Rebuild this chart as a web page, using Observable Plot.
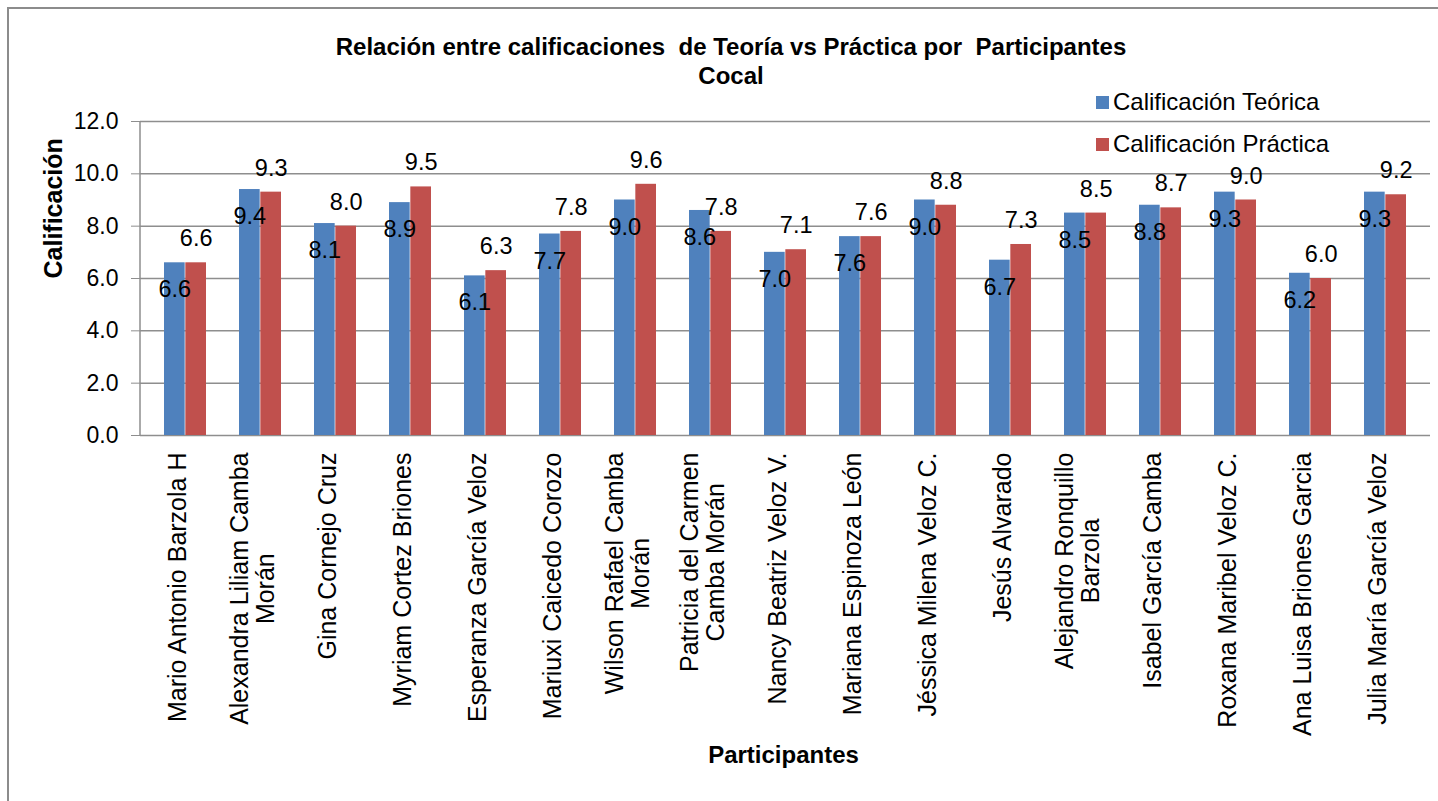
<!DOCTYPE html>
<html>
<head>
<meta charset="utf-8">
<script src="https://cdn.jsdelivr.net/npm/d3@7"></script>
<script src="https://cdn.jsdelivr.net/npm/@observablehq/plot@0.6"></script>
<style>
  html, body { margin: 0; padding: 0; background: #fff; }
  #wrap { position: relative; width: 1438px; height: 801px; overflow: hidden; font-family: "Liberation Sans", Arial, sans-serif; color: #000; }
  #border { position: absolute; left: 7px; top: 7px; width: 1460px; height: 820px; border: 2.5px solid #8c8c8c; box-sizing: border-box; }
  #title { position: absolute; left: 0; top: 32px; width: 1462px; text-align: center; font-weight: bold; font-size: 24px; line-height: 29px; white-space: pre; }
  #chart { position: absolute; left: 0; top: 0; }
  #legend { position: absolute; left: 1096px; top: 88px; font-size: 24px; }
  .item { display: flex; align-items: center; height: 28px; margin-bottom: 14px; white-space: nowrap; }
  .sw { width: 13px; height: 13px; margin-right: 4px; }
</style>
</head>
<body>
<div id="wrap">
  <div id="border"></div>
  <div id="title"></div>
  <div id="chart"></div>
  <div id="legend"></div>
</div>
<script>
const titleLines = ["Relación entre calificaciones  de Teoría vs Práctica por  Participantes", "Cocal"];
const participants = [
  "Mario Antonio Barzola H",
  "Alexandra Liliam Camba\nMorán",
  "Gina Cornejo Cruz",
  "Myriam Cortez Briones",
  "Esperanza García Veloz",
  "Mariuxi Caicedo Corozo",
  "Wilson Rafael Camba\nMorán",
  "Patricia del Carmen\nCamba Morán",
  "Nancy Beatriz Veloz V.",
  "Mariana Espinoza León",
  "Jéssica Milena Veloz C.",
  "Jesús Alvarado",
  "Alejandro Ronquillo\nBarzola",
  "Isabel García Camba",
  "Roxana Maribel Veloz C.",
  "Ana Luisa Briones Garcia",
  "Julia María García Veloz"
];
const teorica  = [6.6, 9.4, 8.1, 8.9, 6.1, 7.7, 9.0, 8.6, 7.0, 7.6, 9.0, 6.7, 8.5, 8.8, 9.3, 6.2, 9.3];
const practica = [6.6, 9.3, 8.0, 9.5, 6.3, 7.8, 9.6, 7.8, 7.1, 7.6, 8.8, 7.3, 8.5, 8.7, 9.0, 6.0, 9.2];
const seriesNames = ["Calificación Teórica", "Calificación Práctica"];
const yTicks = [0, 2, 4, 6, 8, 10, 12];
const yLabel = "Calificación";
const xLabel = "Participantes";

const colors = ["#4F81BD", "#C0504D"];
const gridColor = "#8e8e8e";
const fontFamily = "'Liberation Sans', Arial, sans-serif";

const rows = participants.map((name, i) => ({name, teo: teorica[i], pra: practica[i]}));
const fmt = d3.format(".1f");

const W = 1438, H = 801;
const mL = 140, mR = 8, mT = 121, mB = 366;
const padIn = 0.438, padOut = 0.219;
const band = d3.scaleBand(participants, [mL, W - mR]).paddingInner(padIn).paddingOuter(padOut);
const bw = band.bandwidth();

// text measuring for centered wrapped labels
const ctx = document.createElement("canvas").getContext("2d");
const xFont = 25;
ctx.font = `${xFont}px ${fontFamily}`;
const measure = s => ctx.measureText(s).width;

const singles = rows.filter(d => !d.name.includes("\n"));
const wrapped = rows.filter(d => d.name.includes("\n"));
const lineGap = 13;
const labelTop = 17;

const xLabelMarks = [
  Plot.text(singles, {x: "name", frameAnchor: "bottom", text: d => d.name, rotate: -90, textAnchor: "end", dy: labelTop, fontSize: xFont}),
  ...wrapped.flatMap(d => {
    const [l1, l2] = d.name.split("\n");
    const w1 = measure(l1);
    return [
      Plot.text([d], {x: "name", frameAnchor: "bottom", text: () => l1, rotate: -90, textAnchor: "end", dy: labelTop, dx: -lineGap, fontSize: xFont}),
      Plot.text([d], {x: "name", frameAnchor: "bottom", text: () => l2, rotate: -90, textAnchor: "middle", dy: labelTop + w1 / 2, dx: lineGap, fontSize: xFont})
    ];
  })
];

const yAxisLine = (index, scales, values, dimensions) => {
  const l = document.createElementNS("http://www.w3.org/2000/svg", "line");
  const y = scales.y;
  l.setAttribute("x1", dimensions.marginLeft);
  l.setAttribute("x2", dimensions.marginLeft);
  l.setAttribute("y1", y(yTicks[yTicks.length - 1]));
  l.setAttribute("y2", y(yTicks[0]));
  l.setAttribute("stroke", gridColor);
  l.setAttribute("stroke-width", 1.5);
  return l;
};

const chart = Plot.plot({
  width: W,
  height: H,
  marginLeft: mL,
  marginRight: mR,
  marginTop: mT,
  marginBottom: mB,
  style: {fontFamily, color: "#000", background: "transparent", overflow: "visible"},
  x: {type: "band", domain: participants, paddingInner: padIn, paddingOuter: padOut, axis: null},
  y: {domain: [yTicks[0], yTicks[yTicks.length - 1]], axis: null},
  marks: [
    Plot.ruleY(yTicks, {stroke: gridColor, strokeWidth: 1.5}),
    Plot.axisY({ticks: yTicks, tickSize: 9, tickPadding: 13, tickFormat: fmt, fontSize: 23, stroke: gridColor, fill: "#000", label: null}),
    yAxisLine,
    Plot.barY(rows, {x: "name", y: "teo", fill: colors[0], insetRight: bw / 2}),
    Plot.barY(rows, {x: "name", y: "pra", fill: colors[1], insetLeft: bw / 2}),
    Plot.text(rows, {x: "name", y: "teo", text: d => fmt(d.teo), dx: -bw / 4, dy: 27, fontSize: 23.5}),
    Plot.text(rows, {x: "name", y: "pra", text: d => fmt(d.pra), dx: bw / 4, dy: -24, fontSize: 23.5}),
    ...xLabelMarks,
    Plot.text([yLabel], {frameAnchor: "left", text: d => d, rotate: -90, dx: -87, fontSize: 25, fontWeight: "bold"}),
    Plot.text([xLabel], {frameAnchor: "bottom", text: d => d, dy: 327, dx: -2, fontSize: 24, fontWeight: "bold"})
  ]
});
document.getElementById("chart").appendChild(chart);

document.getElementById("title").textContent = titleLines.join("\n");
const legend = document.getElementById("legend");
seriesNames.forEach((s, i) => {
  const item = document.createElement("div");
  item.className = "item";
  const sw = document.createElement("div");
  sw.className = "sw";
  sw.style.background = colors[i];
  const t = document.createElement("span");
  t.textContent = s;
  item.appendChild(sw);
  item.appendChild(t);
  legend.appendChild(item);
});
</script>
</body>
</html>
